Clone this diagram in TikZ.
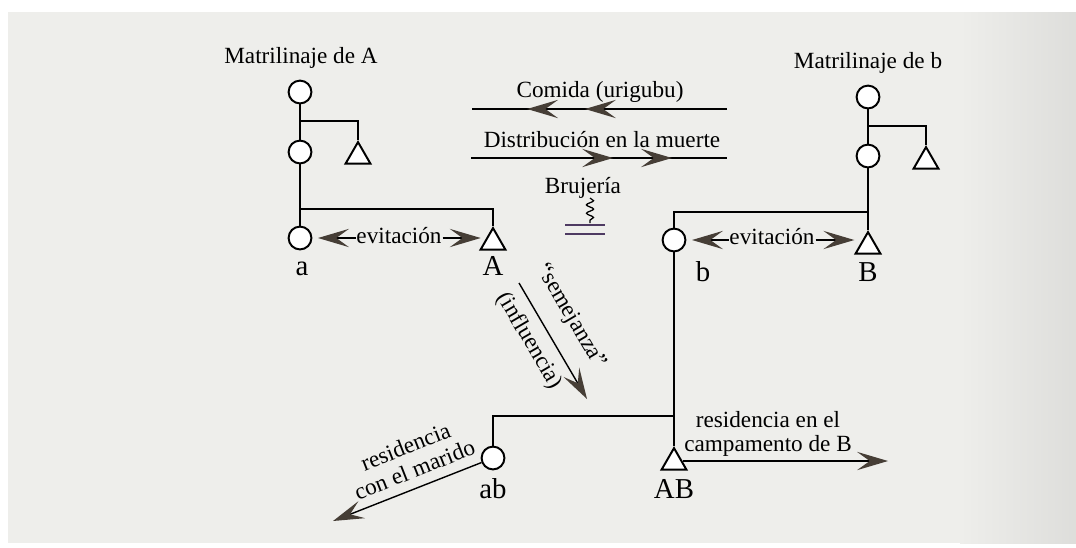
\documentclass[tikz,border=0pt]{standalone}
\usepackage{fontspec}
\setmainfont{Liberation Serif}
\usetikzlibrary{arrows.meta, shapes.geometric, decorations.markings, decorations.pathmorphing}

\definecolor{papel}{RGB}{238,238,235}
\definecolor{punta}{RGB}{70,62,54}
\definecolor{bruja}{RGB}{78,58,98}

\tikzset{
  flecha/.tip={Stealth[length=22pt, width=13pt, inset=9pt, color=punta]},
}

\begin{document}
\begin{tikzpicture}[x=0.025cm, y=-0.025cm, line width=1.4pt,
    mujer/.style={circle, draw, fill=white, minimum size=0.57cm, inner sep=0pt},
    hombre/.style={regular polygon, regular polygon sides=3, draw, fill=white, minimum size=0.72cm, inner sep=0pt},
    txt/.style={font=\fontsize{16.5}{17.5}\selectfont, inner sep=0pt},
    letra/.style={font=\fontsize{20.5}{22}\selectfont, inner sep=0pt, anchor=base},
    rel/.style={line width=1pt, -flecha},
    dobles/.style={line width=1pt, postaction=decorate},
  ]

    % === fondo ===
    \fill[white] (0,0) rectangle (1076,547);
    \fill[papel] (8,12) rectangle (1076,543);
    \shade[left color=papel, right color=papel!85!gray] (960,12) rectangle (1076,543);
    \useasboundingbox (0,0) rectangle (1076,547);

    % === Matrilinaje de A ===
    \node[txt, anchor=base] (tit-A) at (301,63) {Matrilinaje de A};
    \node[mujer] (mA1) at (300,92) {};
    \node[mujer] (mA2) at (300,152) {};
    \node[hombre] (hA1) at (358,156.5) {};
    \node[mujer] (a) at (300,238) {};
    \node[hombre] (A) at (493,242.5) {};
    \node[letra] (la) at (302,275) {a};
    \node[letra] (lA) at (493,275) {A};

    \draw (mA1) -- (mA2) -- (a);
    \coordinate (jA1) at (300,121);
    \coordinate (jA2) at (300,209);
    \draw (jA1) -| (hA1.north);
    \draw (jA2) -| (A.north);

    % evitacion a - A
    \node[txt, anchor=base] (ev-a) at (399,243) {evitación};
    \draw[rel, shorten >=4pt] (ev-a.west |- a) -- (a);
    \draw[rel, shorten >=2pt] (ev-a.east |- a) -- (A.west |- a);

    % === Matrilinaje de b ===
    \node[txt, anchor=base] (tit-b) at (868,68) {Matrilinaje de b};
    \node[mujer] (mb1) at (868,97) {};
    \node[mujer] (mb2) at (868,156) {};
    \node[hombre] (hb1) at (926,161.5) {};
    \node[hombre] (B) at (868,246.5) {};
    \node[mujer] (b) at (674,240) {};
    \node[letra] (lb) at (703,281) {b};
    \node[letra] (lB) at (868,281) {B};

    \draw (mb1) -- (mb2) -- (B);
    \coordinate (jb1) at (868,126);
    \coordinate (jb2) at (868,212);
    \draw (jb1) -| (hb1.north);
    \draw (jb2) -| (b.north);

    % evitacion b - B
    \node[txt, anchor=base] (ev-b) at (772,244) {evitación};
    \draw[rel, shorten >=4pt] (ev-b.west |- b) -- (b);
    \draw[rel, shorten >=3pt] (ev-b.east |- b) -- (B.west |- b);

    % === hijos ab, AB ===
    \node[mujer] (ab) at (493,458) {};
    \node[hombre] (AB) at (674,462.5) {};
    \node[letra] (lab) at (493,498) {ab};
    \node[letra] (lAB) at (674,498) {AB};

    \draw (b) -- (AB);
    \coordinate (jab) at (674,416);
    \draw (jab) -| (ab.north);

    % residencia
    \coordinate (mar-e) at (333,521);
    \draw[rel] (ab) -- (mar-e);
    \node[txt, align=center, rotate=21.5] (marido) at (410,458) {residencia\\con el marido};

    \coordinate (cam-e) at (888,461);
    \draw[rel] (AB.east |- cam-e) -- (cam-e);
    \node[txt, align=center] (campam) at (768,434) {residencia en el\\campamento de B};

    % "semejanza"
    \coordinate (sem-s) at (519,283);
    \coordinate (sem-e) at (587,399);
    \draw[rel] (sem-s) -- (sem-e)
        node[txt, pos=0.41, sloped, above=12pt] (semej) {“semejanza”}
        node[txt, pos=0.41, sloped, below=6.5pt] (influ) {(influencia)};

    % === intercambios ===
    \node[txt, anchor=base] (comida) at (600,97) {Comida (urigubu)};
    \coordinate (com-r) at (727,109);
    \coordinate (com-l) at (472,109);
    \draw[dobles, decoration={markings,
        mark=at position 0.557 with {\arrow{flecha}},
        mark=at position 0.784 with {\arrow{flecha}}}] (com-r) -- (com-l);

    \node[txt, anchor=base] (dist) at (602,147) {Distribución en la muerte};
    \coordinate (dis-l) at (471,158);
    \coordinate (dis-r) at (727,158);
    \draw[dobles, decoration={markings,
        mark=at position 0.555 with {\arrow{flecha}},
        mark=at position 0.785 with {\arrow{flecha}}}] (dis-l) -- (dis-r);

    % brujeria
    \node[txt, anchor=base] (bruj) at (583,193) {Brujería};
    \coordinate (bru-s) at (590,198);
    \coordinate (bru-e) at (590,223);
    \draw[line width=0.9pt, decorate, decoration={snake, amplitude=2.5pt, segment length=6pt}] (bru-s) -- (bru-e);
    \coordinate (dob1-l) at (565,225);
    \coordinate (dob1-r) at (605,225);
    \coordinate (dob2-l) at (565,234);
    \coordinate (dob2-r) at (605,234);
    \draw[bruja, line width=1pt] (dob1-l) -- (dob1-r);
    \draw[bruja, line width=1pt] (dob2-l) -- (dob2-r);

\end{tikzpicture}
\end{document}
